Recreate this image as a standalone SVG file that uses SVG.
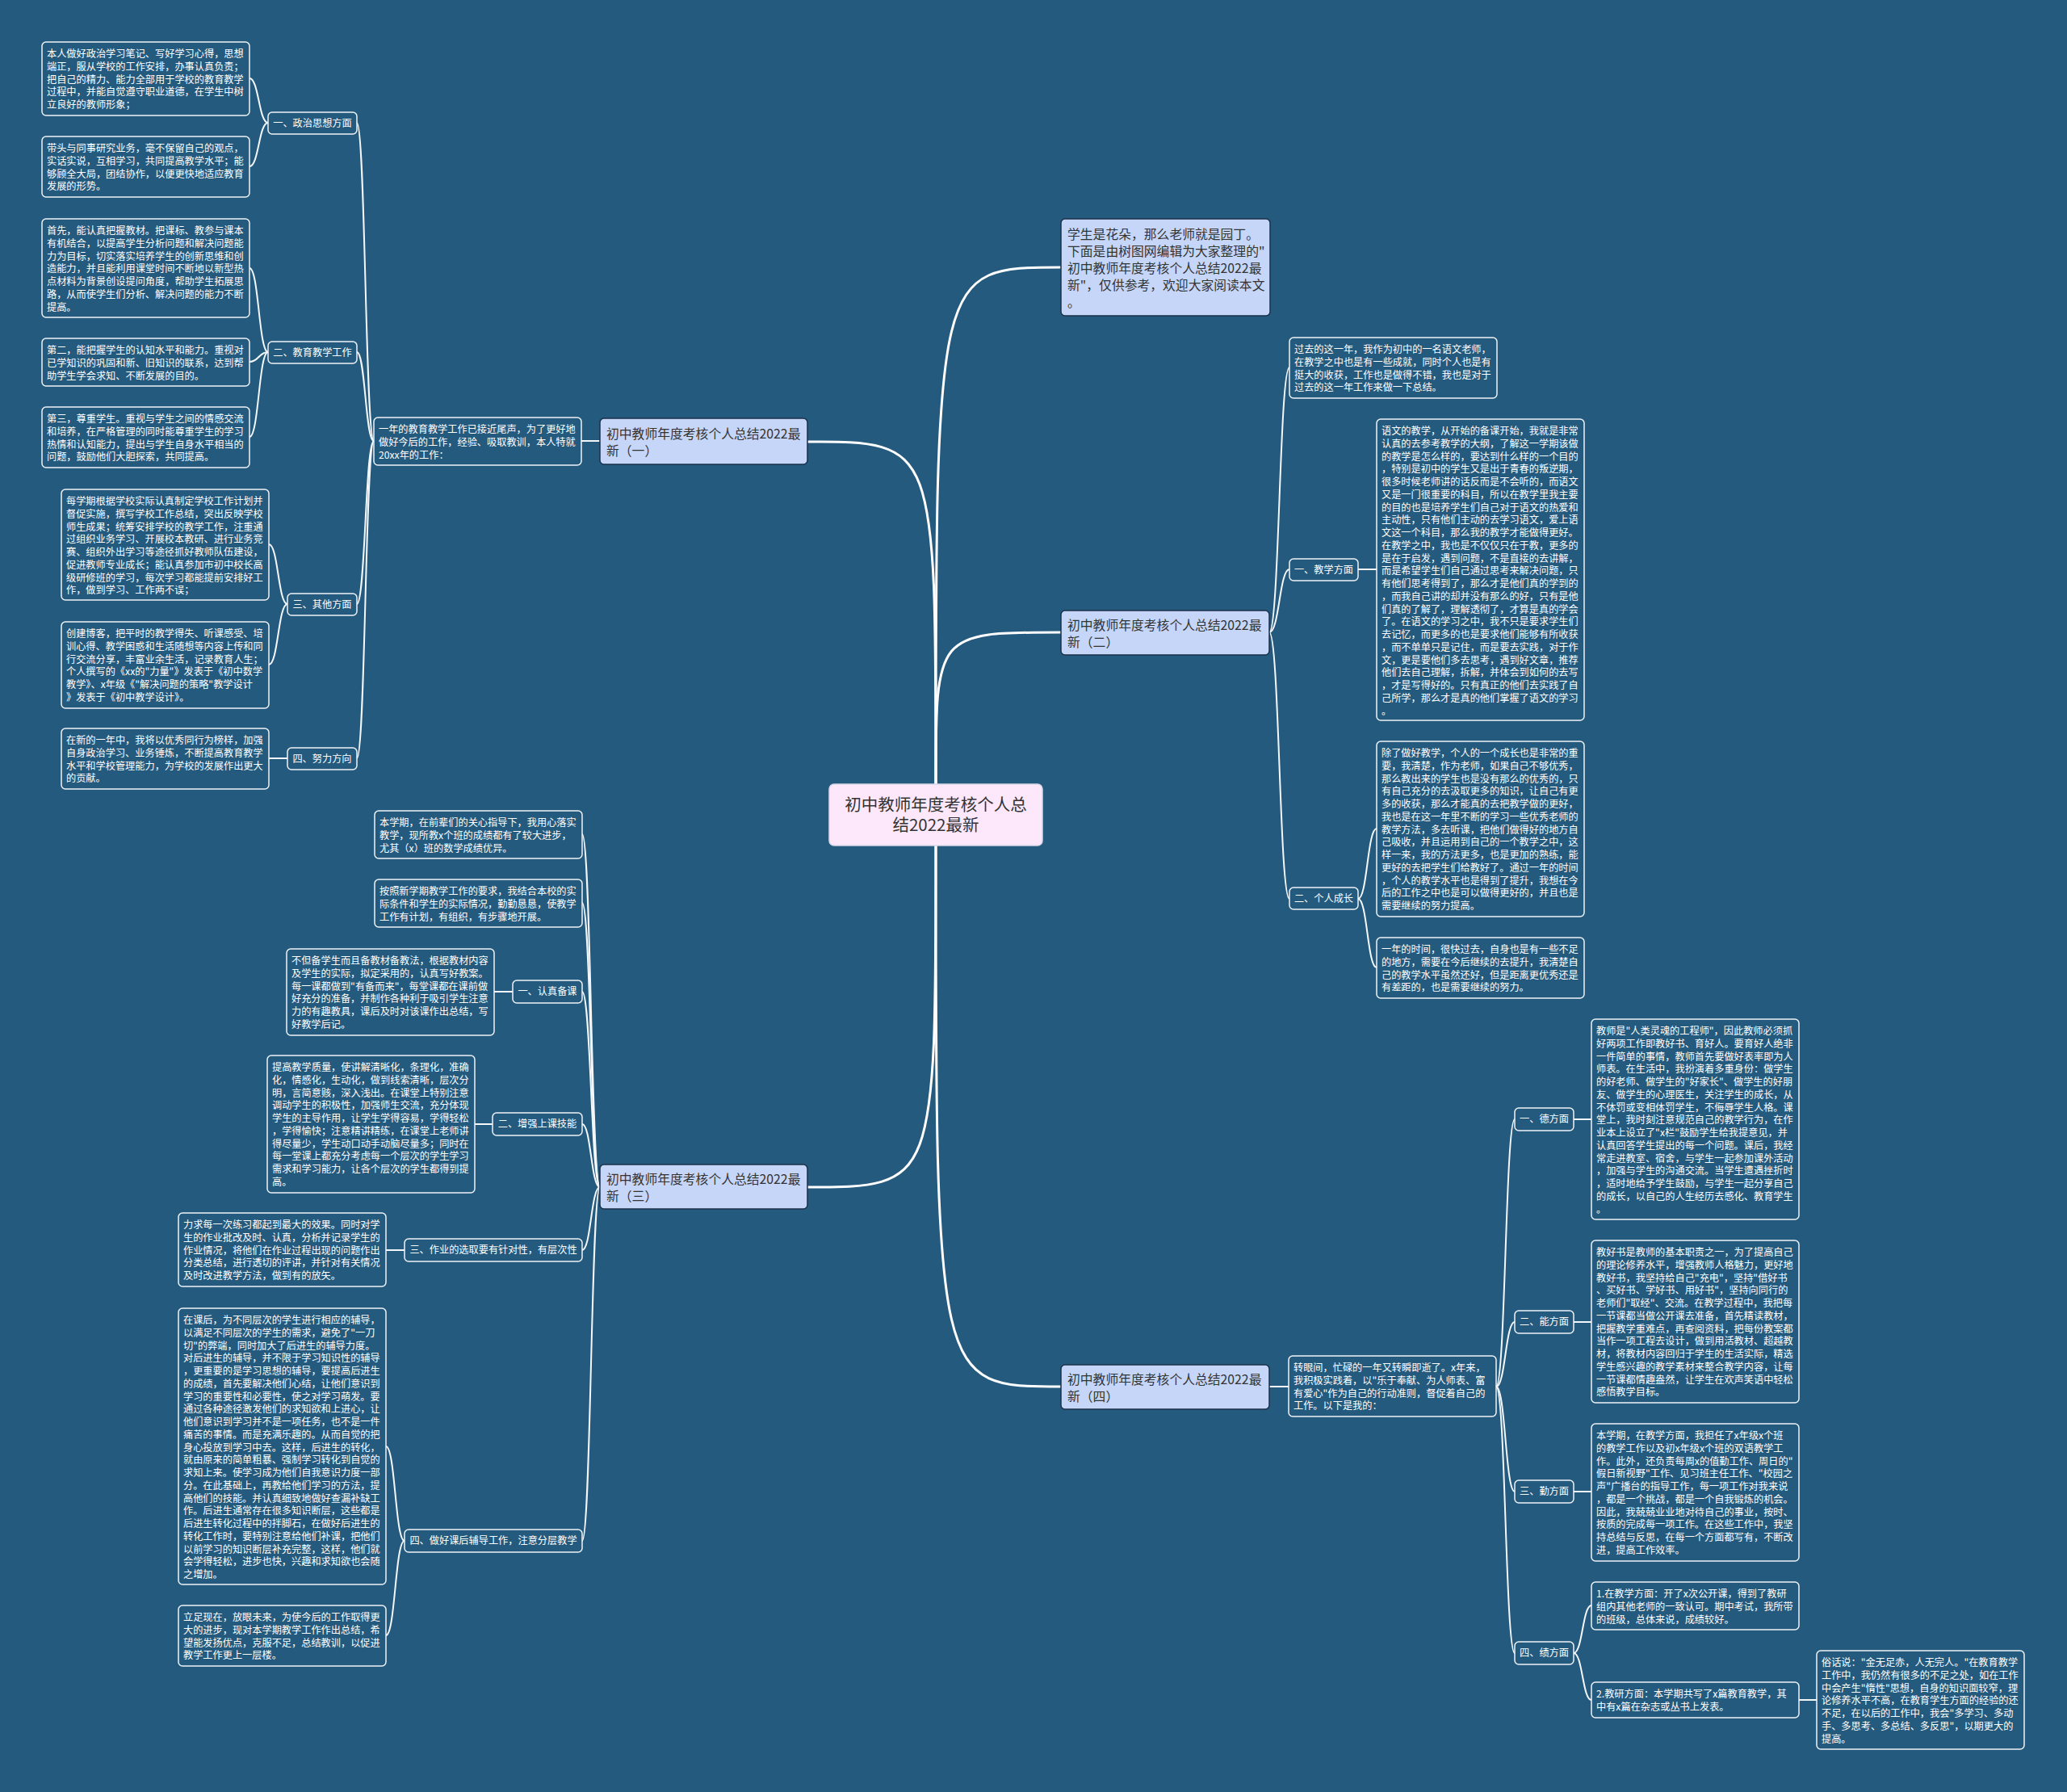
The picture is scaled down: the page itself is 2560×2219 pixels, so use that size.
<svg xmlns="http://www.w3.org/2000/svg" width="2560" height="2219" viewBox="0 0 2560 2219">
<style>
.cb{fill:none;stroke:#eef3f8;stroke-width:1.5}
.nl{fill:#c6d6f8;stroke:#1b3149;stroke-width:1.5}
.mn{fill:#fde8fb;stroke:#d8d8e8;stroke-width:1.5}
text{font-family:'Noto Sans CJK SC','Noto Sans',sans-serif}
.t{font-size:12.2px;fill:#ffffff}
.tl{font-size:12.2px;fill:#ffffff;text-anchor:middle}
.tn{font-size:15.8px;fill:#333333}
.tm{font-size:20.5px;fill:#333333;text-anchor:middle}
.c1{fill:none;stroke:#ffffff;stroke-width:3}
.c2{fill:none;stroke:#f4f7fa;stroke-width:2}
</style>
<rect x="0" y="0" width="2560" height="2219" fill="#245a7e"/>
<g id="connectors">
<path class="c1" d="M1159,971 C1159,547 1159,547 1000,547"/>
<path class="c1" d="M1159,971 C1159,331 1159,331 1314,331"/>
<path class="c1" d="M1159,971 C1159,783 1159,783 1314,783"/>
<path class="c1" d="M1159,1047 C1159,1470 1159,1470 999,1470"/>
<path class="c1" d="M1159,1047 C1159,1717 1159,1717 1314,1717"/>
<path class="c2" d="M743,546 L720,546"/>
<path class="c2" d="M463,546 C452.5,546 452.5,152 442,152"/>
<path class="c2" d="M463,546 C452.5,546 452.5,436 442,436"/>
<path class="c2" d="M463,546 C452.5,546 452.5,748 442,748"/>
<path class="c2" d="M463,546 C452.5,546 452.5,939 442,939"/>
<path class="c2" d="M332,152 C320.5,152 320.5,97 309,97"/>
<path class="c2" d="M332,152 C320.5,152 320.5,206 309,206"/>
<path class="c2" d="M332,436 C320.5,436 320.5,332 309,332"/>
<path class="c2" d="M332,436 C320.5,436 320.5,448 309,448"/>
<path class="c2" d="M332,436 C320.5,436 320.5,541 309,541"/>
<path class="c2" d="M356,748 C344.5,748 344.5,674 333,674"/>
<path class="c2" d="M356,748 C344.5,748 344.5,823 333,823"/>
<path class="c2" d="M356,939 L333,939"/>
<path class="c2" d="M1572,783 C1584.5,783 1584.5,455 1597,455"/>
<path class="c2" d="M1572,783 C1584.5,783 1584.5,705 1597,705"/>
<path class="c2" d="M1572,783 C1584.5,783 1584.5,1113 1597,1113"/>
<path class="c2" d="M1682,705 L1705,705"/>
<path class="c2" d="M1682,1113 C1693.5,1113 1693.5,1026 1705,1026"/>
<path class="c2" d="M1682,1113 C1693.5,1113 1693.5,1198 1705,1198"/>
<path class="c2" d="M1572,1717 L1596,1717"/>
<path class="c2" d="M1853,1717 C1864.5,1717 1864.5,1386 1876,1386"/>
<path class="c2" d="M1853,1717 C1864.5,1717 1864.5,1637 1876,1637"/>
<path class="c2" d="M1853,1717 C1864.5,1717 1864.5,1847 1876,1847"/>
<path class="c2" d="M1853,1717 C1864.5,1717 1864.5,2047 1876,2047"/>
<path class="c2" d="M1949,1386 L1971,1386"/>
<path class="c2" d="M1949,1637 L1971,1637"/>
<path class="c2" d="M1949,1847 L1971,1847"/>
<path class="c2" d="M1949,2047 C1960,2047 1960,1988 1971,1988"/>
<path class="c2" d="M1949,2047 C1960,2047 1960,2105 1971,2105"/>
<path class="c2" d="M2228,2105 L2250,2105"/>
<path class="c2" d="M743,1470 C732,1470 732,1033 721,1033"/>
<path class="c2" d="M743,1470 C732,1470 732,1118 721,1118"/>
<path class="c2" d="M743,1470 C732,1470 732,1228 721,1228"/>
<path class="c2" d="M743,1470 C732,1470 732,1392 721,1392"/>
<path class="c2" d="M743,1470 C732,1470 732,1548 721,1548"/>
<path class="c2" d="M743,1470 C732,1470 732,1908 721,1908"/>
<path class="c2" d="M635,1228 L612,1228"/>
<path class="c2" d="M610,1392 L588,1392"/>
<path class="c2" d="M501,1548 L478,1548"/>
<path class="c2" d="M501,1908 C489.5,1908 489.5,1791 478,1791"/>
<path class="c2" d="M501,1908 C489.5,1908 489.5,2025 478,2025"/>
</g>
<g id="main"><rect class="mn" x="1027" y="971" width="264" height="76" rx="6"/><text class="tm" x="1159" y="1004.4">初中教师年度考核个人总</text><text class="tm" x="1159" y="1029.4">结2022最新</text></g>
<g id="intro"><rect class="nl" x="1314" y="271" width="259" height="120" rx="5"/><text class="tn" x="1322" y="295.7"><tspan x="1322" dy="0">学生是花朵，那么老师就是园丁。</tspan><tspan x="1322" dy="21">下面是由树图网编辑为大家整理的"</tspan><tspan x="1322" dy="21">初中教师年度考核个人总结2022最</tspan><tspan x="1322" dy="21">新"，仅供参考，欢迎大家阅读本文</tspan><tspan x="1322" dy="21">。</tspan></text></g>
<g id="n1"><rect class="nl" x="743" y="518" width="257" height="57" rx="5"/><text class="tn" x="751" y="542.6"><tspan x="751" dy="0">初中教师年度考核个人总结2022最</tspan><tspan x="751" dy="21">新（一）</tspan></text></g>
<g id="n2"><rect class="nl" x="1314" y="756" width="258" height="55" rx="5"/><text class="tn" x="1322" y="780"><tspan x="1322" dy="0">初中教师年度考核个人总结2022最</tspan><tspan x="1322" dy="21">新（二）</tspan></text></g>
<g id="n3"><rect class="nl" x="743" y="1442" width="257" height="55" rx="5"/><text class="tn" x="751" y="1466"><tspan x="751" dy="0">初中教师年度考核个人总结2022最</tspan><tspan x="751" dy="21">新（三）</tspan></text></g>
<g id="n4"><rect class="nl" x="1314" y="1690" width="258" height="55" rx="5"/><text class="tn" x="1322" y="1714"><tspan x="1322" dy="0">初中教师年度考核个人总结2022最</tspan><tspan x="1322" dy="21">新（四）</tspan></text></g>
<g id="n1c"><rect class="cb" x="463" y="517" width="257" height="59" rx="5"/><text class="t" x="469" y="536.2"><tspan x="469" dy="0">一年的教育教学工作已接近尾声，为了更好地</tspan><tspan x="469" dy="15.75">做好今后的工作，经验、吸取教训，本人特就</tspan><tspan x="469" dy="15.75">20xx年的工作：</tspan></text></g>
<g id="l1"><rect class="cb" x="332" y="139" width="110" height="27" rx="5"/><text class="tl" x="387" y="157">一、政治思想方面</text></g>
<g id="l2"><rect class="cb" x="332" y="423" width="110" height="27" rx="5"/><text class="tl" x="387" y="441">二、教育教学工作</text></g>
<g id="l3"><rect class="cb" x="356" y="735" width="86" height="27" rx="5"/><text class="tl" x="399" y="753">三、其他方面</text></g>
<g id="l4"><rect class="cb" x="356" y="926" width="86" height="27" rx="5"/><text class="tl" x="399" y="944">四、努力方向</text></g>
<g id="a1"><rect class="cb" x="52" y="52" width="257" height="91" rx="5"/><text class="t" x="58" y="71.2"><tspan x="58" dy="0">本人做好政治学习笔记、写好学习心得，思想</tspan><tspan x="58" dy="15.75">端正，服从学校的工作安排，办事认真负责；</tspan><tspan x="58" dy="15.75">把自己的精力、能力全部用于学校的教育教学</tspan><tspan x="58" dy="15.75">过程中，并能自觉遵守职业道德，在学生中树</tspan><tspan x="58" dy="15.75">立良好的教师形象；</tspan></text></g>
<g id="a2"><rect class="cb" x="52" y="169" width="257" height="75" rx="5"/><text class="t" x="58" y="188.2"><tspan x="58" dy="0">带头与同事研究业务，毫不保留自己的观点，</tspan><tspan x="58" dy="15.75">实话实说，互相学习，共同提高教学水平；能</tspan><tspan x="58" dy="15.75">够顾全大局，团结协作，以便更快地适应教育</tspan><tspan x="58" dy="15.75">发展的形势。</tspan></text></g>
<g id="a3"><rect class="cb" x="52" y="271" width="257" height="122" rx="5"/><text class="t" x="58" y="290.2"><tspan x="58" dy="0">首先，能认真把握教材。把课标、教参与课本</tspan><tspan x="58" dy="15.75">有机结合，以提高学生分析问题和解决问题能</tspan><tspan x="58" dy="15.75">力为目标，切实落实培养学生的创新思维和创</tspan><tspan x="58" dy="15.75">造能力，并且能利用课堂时间不断地以新型热</tspan><tspan x="58" dy="15.75">点材料为背景创设提问角度，帮助学生拓展思</tspan><tspan x="58" dy="15.75">路，从而使学生们分析、解决问题的能力不断</tspan><tspan x="58" dy="15.75">提高。</tspan></text></g>
<g id="a4"><rect class="cb" x="52" y="419" width="257" height="59" rx="5"/><text class="t" x="58" y="438.2"><tspan x="58" dy="0">第二，能把握学生的认知水平和能力。重视对</tspan><tspan x="58" dy="15.75">已学知识的巩固和新、旧知识的联系，达到帮</tspan><tspan x="58" dy="15.75">助学生学会求知、不断发展的目的。</tspan></text></g>
<g id="a5"><rect class="cb" x="52" y="504" width="257" height="75" rx="5"/><text class="t" x="58" y="523.2"><tspan x="58" dy="0">第三，尊重学生。重视与学生之间的情感交流</tspan><tspan x="58" dy="15.75">和培养，在严格管理的同时能尊重学生的学习</tspan><tspan x="58" dy="15.75">热情和认知能力，提出与学生自身水平相当的</tspan><tspan x="58" dy="15.75">问题，鼓励他们大胆探索，共同提高。</tspan></text></g>
<g id="a6"><rect class="cb" x="76" y="606" width="257" height="137" rx="5"/><text class="t" x="82" y="625.2"><tspan x="82" dy="0">每学期根据学校实际认真制定学校工作计划并</tspan><tspan x="82" dy="15.75">督促实施，撰写学校工作总结，突出反映学校</tspan><tspan x="82" dy="15.75">师生成果；统筹安排学校的教学工作，注重通</tspan><tspan x="82" dy="15.75">过组织业务学习、开展校本教研、进行业务竞</tspan><tspan x="82" dy="15.75">赛、组织外出学习等途径抓好教师队伍建设，</tspan><tspan x="82" dy="15.75">促进教师专业成长；能认真参加市初中校长高</tspan><tspan x="82" dy="15.75">级研修班的学习，每次学习都能提前安排好工</tspan><tspan x="82" dy="15.75">作，做到学习、工作两不误；</tspan></text></g>
<g id="a7"><rect class="cb" x="76" y="770" width="257" height="107" rx="5"/><text class="t" x="82" y="789.2"><tspan x="82" dy="0">创建博客，把平时的教学得失、听课感受、培</tspan><tspan x="82" dy="15.75">训心得、教学困惑和生活随想等内容上传和同</tspan><tspan x="82" dy="15.75">行交流分享，丰富业余生活，记录教育人生；</tspan><tspan x="82" dy="15.75">个人撰写的《xx的"力量"》发表于《初中数学</tspan><tspan x="82" dy="15.75">教学》、x年级《"解决问题的策略"教学设计</tspan><tspan x="82" dy="15.75">》发表于《初中教学设计》。</tspan></text></g>
<g id="a8"><rect class="cb" x="76" y="902" width="257" height="75" rx="5"/><text class="t" x="82" y="921.2"><tspan x="82" dy="0">在新的一年中，我将以优秀同行为榜样，加强</tspan><tspan x="82" dy="15.75">自身政治学习、业务锤炼，不断提高教育教学</tspan><tspan x="82" dy="15.75">水平和学校管理能力，为学校的发展作出更大</tspan><tspan x="82" dy="15.75">的贡献。</tspan></text></g>
<g id="b1"><rect class="cb" x="1597" y="418" width="257" height="75" rx="5"/><text class="t" x="1603" y="437.2"><tspan x="1603" dy="0">过去的这一年，我作为初中的一名语文老师，</tspan><tspan x="1603" dy="15.75">在教学之中也是有一些成就，同时个人也是有</tspan><tspan x="1603" dy="15.75">挺大的收获，工作也是做得不错，我也是对于</tspan><tspan x="1603" dy="15.75">过去的这一年工作来做一下总结。</tspan></text></g>
<g id="bl1"><rect class="cb" x="1597" y="692" width="85" height="27" rx="5"/><text class="tl" x="1639.5" y="710">一、教学方面</text></g>
<g id="b2"><rect class="cb" x="1705" y="519" width="257" height="373" rx="5"/><text class="t" x="1711" y="538.2"><tspan x="1711" dy="0">语文的教学，从开始的备课开始，我就是非常</tspan><tspan x="1711" dy="15.75">认真的去参考教学的大纲，了解这一学期该做</tspan><tspan x="1711" dy="15.75">的教学是怎么样的，要达到什么样的一个目的</tspan><tspan x="1711" dy="15.75">，特别是初中的学生又是出于青春的叛逆期，</tspan><tspan x="1711" dy="15.75">很多时候老师讲的话反而是不会听的，而语文</tspan><tspan x="1711" dy="15.75">又是一门很重要的科目，所以在教学里我主要</tspan><tspan x="1711" dy="15.75">的目的也是培养学生们自己对于语文的热爱和</tspan><tspan x="1711" dy="15.75">主动性，只有他们主动的去学习语文，爱上语</tspan><tspan x="1711" dy="15.75">文这一个科目，那么我的教学才能做得更好。</tspan><tspan x="1711" dy="15.75">在教学之中，我也是不仅仅只在于教，更多的</tspan><tspan x="1711" dy="15.75">是在于启发，遇到问题，不是直接的去讲解，</tspan><tspan x="1711" dy="15.75">而是希望学生们自己通过思考来解决问题，只</tspan><tspan x="1711" dy="15.75">有他们思考得到了，那么才是他们真的学到的</tspan><tspan x="1711" dy="15.75">，而我自己讲的却并没有那么的好，只有是他</tspan><tspan x="1711" dy="15.75">们真的了解了，理解透彻了，才算是真的学会</tspan><tspan x="1711" dy="15.75">了。在语文的学习之中，我不只是要求学生们</tspan><tspan x="1711" dy="15.75">去记忆，而更多的也是要求他们能够有所收获</tspan><tspan x="1711" dy="15.75">，而不单单只是记住，而是要去实践，对于作</tspan><tspan x="1711" dy="15.75">文，更是要他们多去思考，遇到好文章，推荐</tspan><tspan x="1711" dy="15.75">他们去自己理解，拆解，并体会到如何的去写</tspan><tspan x="1711" dy="15.75">，才是写得好的。只有真正的他们去实践了自</tspan><tspan x="1711" dy="15.75">己所学，那么才是真的他们掌握了语文的学习</tspan><tspan x="1711" dy="15.75">。</tspan></text></g>
<g id="bl2"><rect class="cb" x="1597" y="1099" width="85" height="27" rx="5"/><text class="tl" x="1639.5" y="1117">二、个人成长</text></g>
<g id="b3"><rect class="cb" x="1705" y="918" width="257" height="217" rx="5"/><text class="t" x="1711" y="937.2"><tspan x="1711" dy="0">除了做好教学，个人的一个成长也是非常的重</tspan><tspan x="1711" dy="15.75">要，我清楚，作为老师，如果自己不够优秀，</tspan><tspan x="1711" dy="15.75">那么教出来的学生也是没有那么的优秀的，只</tspan><tspan x="1711" dy="15.75">有自己充分的去汲取更多的知识，让自己有更</tspan><tspan x="1711" dy="15.75">多的收获，那么才能真的去把教学做的更好，</tspan><tspan x="1711" dy="15.75">我也是在这一年里不断的学习一些优秀老师的</tspan><tspan x="1711" dy="15.75">教学方法，多去听课，把他们做得好的地方自</tspan><tspan x="1711" dy="15.75">己吸收，并且运用到自己的一个教学之中，这</tspan><tspan x="1711" dy="15.75">样一来，我的方法更多，也是更加的熟练，能</tspan><tspan x="1711" dy="15.75">更好的去把学生们给教好了。通过一年的时间</tspan><tspan x="1711" dy="15.75">，个人的教学水平也是得到了提升，我想在今</tspan><tspan x="1711" dy="15.75">后的工作之中也是可以做得更好的，并且也是</tspan><tspan x="1711" dy="15.75">需要继续的努力提高。</tspan></text></g>
<g id="b4"><rect class="cb" x="1705" y="1161" width="257" height="75" rx="5"/><text class="t" x="1711" y="1180.2"><tspan x="1711" dy="0">一年的时间，很快过去，自身也是有一些不足</tspan><tspan x="1711" dy="15.75">的地方，需要在今后继续的去提升，我清楚自</tspan><tspan x="1711" dy="15.75">己的教学水平虽然还好，但是距离更优秀还是</tspan><tspan x="1711" dy="15.75">有差距的，也是需要继续的努力。</tspan></text></g>
<g id="c0"><rect class="cb" x="1596" y="1679" width="257" height="75" rx="5"/><text class="t" x="1602" y="1698.2"><tspan x="1602" dy="0">转眼间，忙碌的一年又转瞬即逝了。x年来，</tspan><tspan x="1602" dy="15.75">我积极实践着，以"乐于奉献、为人师表、富</tspan><tspan x="1602" dy="15.75">有爱心"作为自己的行动准则，督促着自己的</tspan><tspan x="1602" dy="15.75">工作。以下是我的：</tspan></text></g>
<g id="cl1"><rect class="cb" x="1876" y="1372" width="73" height="28" rx="5"/><text class="tl" x="1912.5" y="1390.4">一、德方面</text></g>
<g id="c1"><rect class="cb" x="1971" y="1262" width="257" height="248" rx="5"/><text class="t" x="1977" y="1281.2"><tspan x="1977" dy="0">教师是"人类灵魂的工程师"，因此教师必须抓</tspan><tspan x="1977" dy="15.75">好两项工作即教好书、育好人。要育好人绝非</tspan><tspan x="1977" dy="15.75">一件简单的事情，教师首先要做好表率即为人</tspan><tspan x="1977" dy="15.75">师表。在生活中，我扮演着多重身份：做学生</tspan><tspan x="1977" dy="15.75">的好老师、做学生的"好家长"、做学生的好朋</tspan><tspan x="1977" dy="15.75">友、做学生的心理医生，关注学生的成长，从</tspan><tspan x="1977" dy="15.75">不体罚或变相体罚学生，不侮辱学生人格。课</tspan><tspan x="1977" dy="15.75">堂上，我时刻注意规范自己的教学行为，在作</tspan><tspan x="1977" dy="15.75">业本上设立了"x栏"鼓励学生给我提意见，并</tspan><tspan x="1977" dy="15.75">认真回答学生提出的每一个问题。课后，我经</tspan><tspan x="1977" dy="15.75">常走进教室、宿舍，与学生一起参加课外活动</tspan><tspan x="1977" dy="15.75">，加强与学生的沟通交流。当学生遭遇挫折时</tspan><tspan x="1977" dy="15.75">，适时地给予学生鼓励，与学生一起分享自己</tspan><tspan x="1977" dy="15.75">的成长，以自己的人生经历去感化、教育学生</tspan><tspan x="1977" dy="15.75">。</tspan></text></g>
<g id="cl2"><rect class="cb" x="1876" y="1623" width="73" height="28" rx="5"/><text class="tl" x="1912.5" y="1641.4">二、能方面</text></g>
<g id="c2"><rect class="cb" x="1971" y="1536" width="257" height="201" rx="5"/><text class="t" x="1977" y="1555.2"><tspan x="1977" dy="0">教好书是教师的基本职责之一，为了提高自己</tspan><tspan x="1977" dy="15.75">的理论修养水平，增强教师人格魅力，更好地</tspan><tspan x="1977" dy="15.75">教好书，我坚持给自己"充电"，坚持"借好书</tspan><tspan x="1977" dy="15.75">、买好书、学好书、用好书"，坚持向同行的</tspan><tspan x="1977" dy="15.75">老师们"取经"、交流。在教学过程中，我把每</tspan><tspan x="1977" dy="15.75">一节课都当做公开课去准备，首先精读教材，</tspan><tspan x="1977" dy="15.75">把握教学重难点，再查阅资料，把每份教案都</tspan><tspan x="1977" dy="15.75">当作一项工程去设计，做到用活教材、超越教</tspan><tspan x="1977" dy="15.75">材，将教材内容回归于学生的生活实际，精选</tspan><tspan x="1977" dy="15.75">学生感兴趣的教学素材来整合教学内容，让每</tspan><tspan x="1977" dy="15.75">一节课都情趣盎然，让学生在欢声笑语中轻松</tspan><tspan x="1977" dy="15.75">感悟教学目标。</tspan></text></g>
<g id="cl3"><rect class="cb" x="1876" y="1833" width="73" height="28" rx="5"/><text class="tl" x="1912.5" y="1851.4">三、勤方面</text></g>
<g id="c3"><rect class="cb" x="1971" y="1763" width="257" height="170" rx="5"/><text class="t" x="1977" y="1782.2"><tspan x="1977" dy="0">本学期，在教学方面，我担任了x年级x个班</tspan><tspan x="1977" dy="15.75">的教学工作以及初x年级x个班的双语教学工</tspan><tspan x="1977" dy="15.75">作。此外，还负责每周x的值勤工作、周日的"</tspan><tspan x="1977" dy="15.75">假日新视野"工作、见习班主任工作、"校园之</tspan><tspan x="1977" dy="15.75">声"广播台的指导工作，每一项工作对我来说</tspan><tspan x="1977" dy="15.75">，都是一个挑战，都是一个自我锻炼的机会。</tspan><tspan x="1977" dy="15.75">因此，我兢兢业业地对待自己的事业，按时、</tspan><tspan x="1977" dy="15.75">按质的完成每一项工作。在这些工作中，我坚</tspan><tspan x="1977" dy="15.75">持总结与反思，在每一个方面都写有，不断改</tspan><tspan x="1977" dy="15.75">进，提高工作效率。</tspan></text></g>
<g id="cl4"><rect class="cb" x="1876" y="2033" width="73" height="28" rx="5"/><text class="tl" x="1912.5" y="2051.4">四、绩方面</text></g>
<g id="c4"><rect class="cb" x="1971" y="1959" width="257" height="59" rx="5"/><text class="t" x="1977" y="1978.2"><tspan x="1977" dy="0">1.在教学方面：开了x次公开课，得到了教研</tspan><tspan x="1977" dy="15.75">组内其他老师的一致认可。期中考试，我所带</tspan><tspan x="1977" dy="15.75">的班级，总体来说，成绩较好。</tspan></text></g>
<g id="c5"><rect class="cb" x="1971" y="2083" width="257" height="44" rx="5"/><text class="t" x="1977" y="2102.2"><tspan x="1977" dy="0">2.教研方面：本学期共写了x篇教育教学，其</tspan><tspan x="1977" dy="15.75">中有x篇在杂志或丛书上发表。</tspan></text></g>
<g id="c6"><rect class="cb" x="2250" y="2044" width="257" height="122" rx="5"/><text class="t" x="2256" y="2063.2"><tspan x="2256" dy="0">俗话说："金无足赤，人无完人。"在教育教学</tspan><tspan x="2256" dy="15.75">工作中，我仍然有很多的不足之处，如在工作</tspan><tspan x="2256" dy="15.75">中会产生"惰性"思想，自身的知识面较窄，理</tspan><tspan x="2256" dy="15.75">论修养水平不高，在教育学生方面的经验的还</tspan><tspan x="2256" dy="15.75">不足，在以后的工作中，我会"多学习、多动</tspan><tspan x="2256" dy="15.75">手、多思考、多总结、多反思"，以期更大的</tspan><tspan x="2256" dy="15.75">提高。</tspan></text></g>
<g id="d1"><rect class="cb" x="464" y="1004" width="257" height="59" rx="5"/><text class="t" x="470" y="1023.2"><tspan x="470" dy="0">本学期，在前辈们的关心指导下，我用心落实</tspan><tspan x="470" dy="15.75">教学，现所教x个班的成绩都有了较大进步，</tspan><tspan x="470" dy="15.75">尤其（x）班的数学成绩优异。</tspan></text></g>
<g id="d2"><rect class="cb" x="464" y="1089" width="257" height="59" rx="5"/><text class="t" x="470" y="1108.2"><tspan x="470" dy="0">按照新学期教学工作的要求，我结合本校的实</tspan><tspan x="470" dy="15.75">际条件和学生的实际情况，勤勤恳恳，使教学</tspan><tspan x="470" dy="15.75">工作有计划，有组织，有步骤地开展。</tspan></text></g>
<g id="dl1"><rect class="cb" x="635" y="1214" width="86" height="28" rx="5"/><text class="tl" x="678" y="1232.4">一、认真备课</text></g>
<g id="d3"><rect class="cb" x="355" y="1175" width="257" height="107" rx="5"/><text class="t" x="361" y="1194.2"><tspan x="361" dy="0">不但备学生而且备教材备教法，根据教材内容</tspan><tspan x="361" dy="15.75">及学生的实际，拟定采用的，认真写好教案。</tspan><tspan x="361" dy="15.75">每一课都做到"有备而来"，每堂课都在课前做</tspan><tspan x="361" dy="15.75">好充分的准备，并制作各种利于吸引学生注意</tspan><tspan x="361" dy="15.75">力的有趣教具，课后及时对该课作出总结，写</tspan><tspan x="361" dy="15.75">好教学后记。</tspan></text></g>
<g id="dl2"><rect class="cb" x="610" y="1378" width="111" height="28" rx="5"/><text class="tl" x="665.5" y="1396.4">二、增强上课技能</text></g>
<g id="d4"><rect class="cb" x="331" y="1307" width="257" height="170" rx="5"/><text class="t" x="337" y="1326.2"><tspan x="337" dy="0">提高教学质量，使讲解清晰化，条理化，准确</tspan><tspan x="337" dy="15.75">化，情感化，生动化，做到线索清晰，层次分</tspan><tspan x="337" dy="15.75">明，言简意赅，深入浅出。在课堂上特别注意</tspan><tspan x="337" dy="15.75">调动学生的积极性，加强师生交流，充分体现</tspan><tspan x="337" dy="15.75">学生的主导作用，让学生学得容易，学得轻松</tspan><tspan x="337" dy="15.75">，学得愉快；注意精讲精练，在课堂上老师讲</tspan><tspan x="337" dy="15.75">得尽量少，学生动口动手动脑尽量多；同时在</tspan><tspan x="337" dy="15.75">每一堂课上都充分考虑每一个层次的学生学习</tspan><tspan x="337" dy="15.75">需求和学习能力，让各个层次的学生都得到提</tspan><tspan x="337" dy="15.75">高。</tspan></text></g>
<g id="dl3"><rect class="cb" x="501" y="1534" width="220" height="28" rx="5"/><text class="tl" x="611" y="1552.4">三、作业的选取要有针对性，有层次性</text></g>
<g id="d5"><rect class="cb" x="221" y="1502" width="257" height="91" rx="5"/><text class="t" x="227" y="1521.2"><tspan x="227" dy="0">力求每一次练习都起到最大的效果。同时对学</tspan><tspan x="227" dy="15.75">生的作业批改及时、认真，分析并记录学生的</tspan><tspan x="227" dy="15.75">作业情况，将他们在作业过程出现的问题作出</tspan><tspan x="227" dy="15.75">分类总结，进行透切的评讲，并针对有关情况</tspan><tspan x="227" dy="15.75">及时改进教学方法，做到有的放矢。</tspan></text></g>
<g id="dl4"><rect class="cb" x="501" y="1894" width="220" height="28" rx="5"/><text class="tl" x="611" y="1912.4">四、做好课后辅导工作，注意分层教学</text></g>
<g id="d6"><rect class="cb" x="221" y="1620" width="257" height="342" rx="5"/><text class="t" x="227" y="1639.2"><tspan x="227" dy="0">在课后，为不同层次的学生进行相应的辅导，</tspan><tspan x="227" dy="15.75">以满足不同层次的学生的需求，避免了"一刀</tspan><tspan x="227" dy="15.75">切"的弊端，同时加大了后进生的辅导力度。</tspan><tspan x="227" dy="15.75">对后进生的辅导，并不限于学习知识性的辅导</tspan><tspan x="227" dy="15.75">，更重要的是学习思想的辅导，要提高后进生</tspan><tspan x="227" dy="15.75">的成绩，首先要解决他们心结，让他们意识到</tspan><tspan x="227" dy="15.75">学习的重要性和必要性，使之对学习萌发。要</tspan><tspan x="227" dy="15.75">通过各种途径激发他们的求知欲和上进心，让</tspan><tspan x="227" dy="15.75">他们意识到学习并不是一项任务，也不是一件</tspan><tspan x="227" dy="15.75">痛苦的事情。而是充满乐趣的。从而自觉的把</tspan><tspan x="227" dy="15.75">身心投放到学习中去。这样，后进生的转化，</tspan><tspan x="227" dy="15.75">就由原来的简单粗暴、强制学习转化到自觉的</tspan><tspan x="227" dy="15.75">求知上来。使学习成为他们自我意识力度一部</tspan><tspan x="227" dy="15.75">分。在此基础上，再教给他们学习的方法，提</tspan><tspan x="227" dy="15.75">高他们的技能。并认真细致地做好查漏补缺工</tspan><tspan x="227" dy="15.75">作。后进生通常存在很多知识断层，这些都是</tspan><tspan x="227" dy="15.75">后进生转化过程中的拌脚石，在做好后进生的</tspan><tspan x="227" dy="15.75">转化工作时，要特别注意给他们补课，把他们</tspan><tspan x="227" dy="15.75">以前学习的知识断层补充完整，这样，他们就</tspan><tspan x="227" dy="15.75">会学得轻松，进步也快，兴趣和求知欲也会随</tspan><tspan x="227" dy="15.75">之增加。</tspan></text></g>
<g id="d7"><rect class="cb" x="221" y="1988" width="257" height="75" rx="5"/><text class="t" x="227" y="2007.2"><tspan x="227" dy="0">立足现在，放眼未来，为使今后的工作取得更</tspan><tspan x="227" dy="15.75">大的进步，现对本学期教学工作作出总结，希</tspan><tspan x="227" dy="15.75">望能发扬优点，克服不足，总结教训，以促进</tspan><tspan x="227" dy="15.75">教学工作更上一层楼。</tspan></text></g>
</svg>
